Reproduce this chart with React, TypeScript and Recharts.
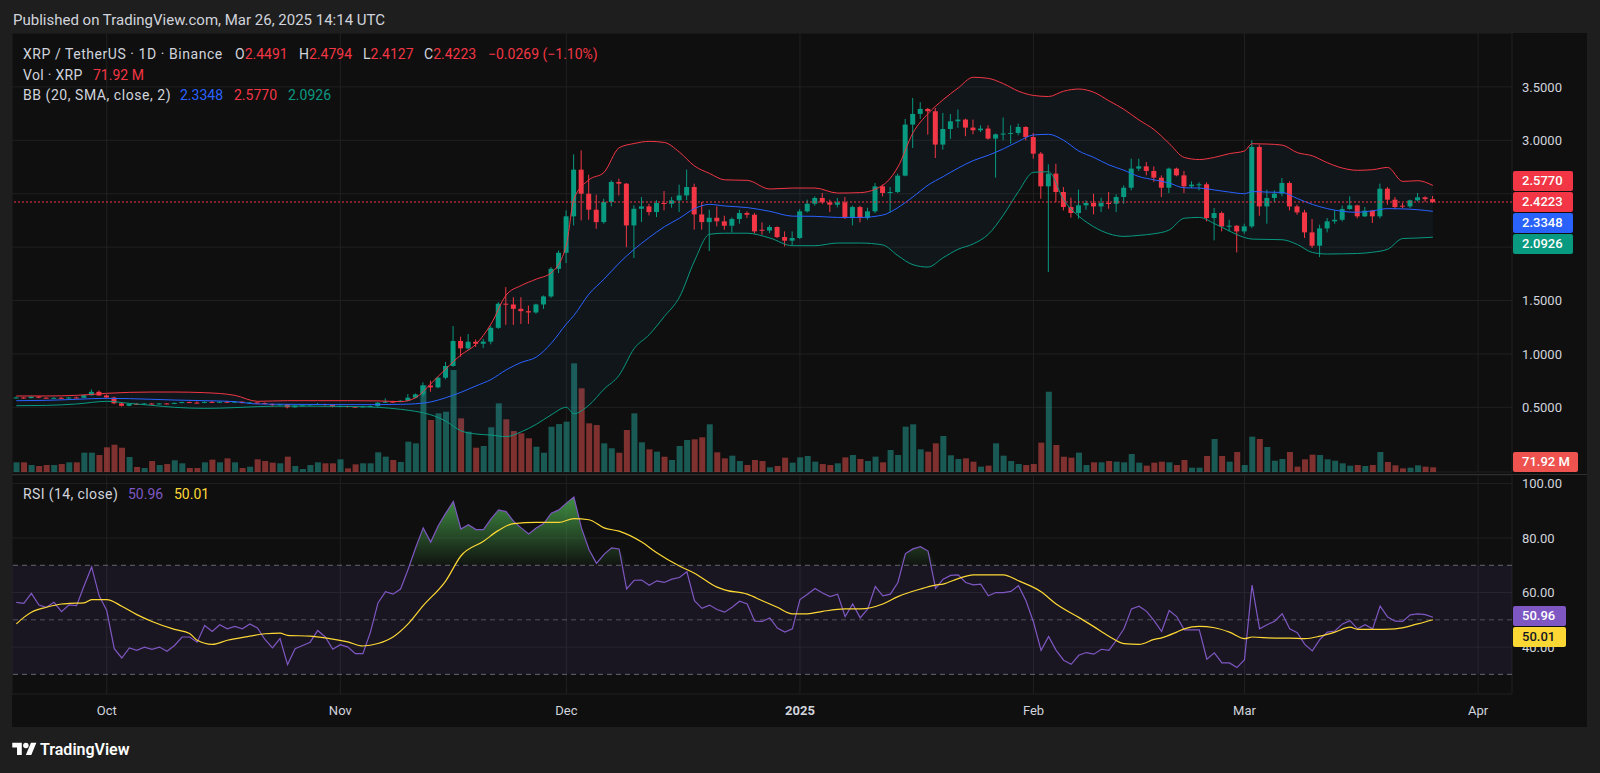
import React from "react";
import {
  ComposedChart,
  Bar,
  Line,
  Area,
  XAxis,
  YAxis,
  CartesianGrid,
  ReferenceLine,
  ReferenceArea,
} from "recharts";

// daily candles, index 0 = Sep 19 2024 ... 188 = Mar 26 2025
const opens = [
  0.586, 0.592, 0.586, 0.600, 0.590, 0.585, 0.589, 0.586, 0.592, 0.589,
  0.613, 0.645, 0.611, 0.592, 0.537, 0.514, 0.533, 0.528, 0.535, 0.530,
  0.536, 0.532, 0.541, 0.549, 0.544, 0.541, 0.551, 0.546, 0.552, 0.548,
  0.553, 0.540, 0.545, 0.540, 0.531, 0.521, 0.528, 0.500, 0.515, 0.518,
  0.528, 0.531, 0.521, 0.506, 0.512, 0.506, 0.503, 0.509, 0.512, 0.543,
  0.553, 0.550, 0.562, 0.590, 0.621, 0.703, 0.687, 0.777, 0.887, 1.121,
  1.052, 1.114, 1.095, 1.115, 1.244, 1.470, 1.463, 1.422, 1.400, 1.388,
  1.463, 1.538, 1.797, 1.947, 2.288, 2.725, 2.500, 2.350, 2.234, 2.422,
  2.610, 2.594, 2.203, 2.359, 2.381, 2.328, 2.413, 2.406, 2.438, 2.484,
  2.563, 2.306, 2.234, 2.275, 2.241, 2.200, 2.263, 2.319, 2.303, 2.162,
  2.155, 2.188, 2.094, 2.060, 2.085, 2.335, 2.406, 2.460, 2.419, 2.397,
  2.419, 2.272, 2.375, 2.272, 2.335, 2.569, 2.507, 2.516, 2.669, 3.147,
  3.247, 3.294, 3.272, 2.960, 3.106, 3.178, 3.194, 3.119, 3.094, 3.110,
  3.016, 3.056, 3.063, 3.069, 3.125, 3.031, 2.875, 2.569, 2.688, 2.516,
  2.375, 2.319, 2.391, 2.413, 2.381, 2.413, 2.406, 2.469, 2.556, 2.735,
  2.756, 2.713, 2.650, 2.556, 2.735, 2.672, 2.569, 2.580, 2.588, 2.272,
  2.319, 2.194, 2.200, 2.147, 2.194, 2.938, 2.381, 2.460, 2.500, 2.600,
  2.381, 2.325, 2.138, 2.013, 2.175, 2.241, 2.256, 2.356, 2.391, 2.288,
  2.341, 2.288, 2.547, 2.444, 2.388, 2.381, 2.438, 2.466, 2.4491,
];
const highs = [
  0.600, 0.596, 0.604, 0.606, 0.594, 0.594, 0.595, 0.597, 0.600, 0.618,
  0.668, 0.656, 0.620, 0.600, 0.542, 0.537, 0.540, 0.542, 0.541, 0.540,
  0.540, 0.545, 0.552, 0.553, 0.556, 0.556, 0.560, 0.555, 0.562, 0.556,
  0.555, 0.549, 0.548, 0.546, 0.537, 0.532, 0.531, 0.518, 0.522, 0.531,
  0.540, 0.535, 0.524, 0.518, 0.515, 0.510, 0.515, 0.518, 0.548, 0.584,
  0.560, 0.568, 0.624, 0.630, 0.734, 0.749, 0.787, 0.924, 1.261, 1.161,
  1.186, 1.135, 1.141, 1.260, 1.485, 1.625, 1.531, 1.531, 1.453, 1.470,
  1.547, 1.813, 1.969, 2.344, 2.869, 2.906, 2.678, 2.491, 2.453, 2.625,
  2.641, 2.600, 2.391, 2.469, 2.406, 2.438, 2.525, 2.469, 2.585, 2.725,
  2.594, 2.422, 2.350, 2.381, 2.294, 2.278, 2.350, 2.335, 2.319, 2.231,
  2.206, 2.194, 2.147, 2.147, 2.356, 2.444, 2.475, 2.507, 2.444, 2.460,
  2.469, 2.388, 2.388, 2.369, 2.600, 2.585, 2.563, 2.688, 3.200, 3.397,
  3.356, 3.303, 3.303, 3.256, 3.247, 3.288, 3.203, 3.194, 3.141, 3.141,
  3.063, 3.213, 3.141, 3.156, 3.131, 3.069, 2.891, 2.775, 2.781, 2.563,
  2.463, 2.538, 2.438, 2.500, 2.463, 2.516, 2.494, 2.578, 2.828, 2.828,
  2.797, 2.756, 2.672, 2.744, 2.744, 2.713, 2.616, 2.607, 2.607, 2.366,
  2.334, 2.256, 2.205, 2.219, 3.000, 2.960, 2.538, 2.531, 2.647, 2.616,
  2.397, 2.350, 2.263, 2.210, 2.272, 2.344, 2.388, 2.475, 2.397, 2.375,
  2.350, 2.594, 2.563, 2.469, 2.413, 2.444, 2.506, 2.475, 2.4794,
];
const lows = [
  0.582, 0.582, 0.584, 0.585, 0.580, 0.582, 0.581, 0.582, 0.585, 0.587,
  0.610, 0.607, 0.585, 0.530, 0.508, 0.510, 0.524, 0.525, 0.526, 0.527,
  0.528, 0.530, 0.537, 0.540, 0.537, 0.539, 0.543, 0.543, 0.545, 0.541,
  0.535, 0.536, 0.532, 0.526, 0.506, 0.517, 0.490, 0.497, 0.511, 0.513,
  0.522, 0.515, 0.500, 0.500, 0.498, 0.495, 0.497, 0.502, 0.503, 0.540,
  0.545, 0.548, 0.555, 0.585, 0.600, 0.646, 0.678, 0.762, 0.880, 0.974,
  1.036, 1.065, 1.056, 1.090, 1.234, 1.272, 1.272, 1.281, 1.281, 1.375,
  1.422, 1.525, 1.756, 1.850, 2.203, 2.250, 2.256, 2.172, 2.219, 2.381,
  2.484, 1.999, 1.897, 2.234, 2.297, 2.281, 2.344, 2.369, 2.328, 2.438,
  2.163, 2.163, 1.963, 2.194, 2.163, 2.138, 2.219, 2.272, 2.131, 2.116,
  2.131, 2.085, 2.006, 2.016, 2.075, 2.325, 2.388, 2.403, 2.328, 2.372,
  2.263, 2.203, 2.231, 2.256, 2.319, 2.475, 2.325, 2.507, 2.663, 2.928,
  3.200, 3.053, 2.834, 2.913, 3.013, 3.116, 3.038, 3.056, 3.078, 3.006,
  2.650, 3.000, 2.969, 3.047, 3.000, 2.828, 2.453, 1.766, 2.422, 2.344,
  2.275, 2.266, 2.350, 2.306, 2.328, 2.359, 2.328, 2.406, 2.531, 2.713,
  2.672, 2.610, 2.469, 2.506, 2.663, 2.506, 2.553, 2.531, 2.241, 2.063,
  2.147, 2.147, 1.950, 2.125, 2.178, 2.294, 2.219, 2.419, 2.475, 2.344,
  2.303, 2.085, 1.991, 1.906, 2.138, 2.219, 2.241, 2.350, 2.269, 2.281,
  2.225, 2.269, 2.397, 2.356, 2.366, 2.366, 2.428, 2.425, 2.4127,
];
const closes = [
  0.592, 0.586, 0.600, 0.590, 0.585, 0.589, 0.586, 0.592, 0.589, 0.613,
  0.645, 0.611, 0.592, 0.537, 0.514, 0.533, 0.528, 0.535, 0.530, 0.536,
  0.532, 0.541, 0.549, 0.544, 0.541, 0.551, 0.546, 0.552, 0.548, 0.553,
  0.540, 0.545, 0.540, 0.531, 0.521, 0.528, 0.500, 0.515, 0.518, 0.528,
  0.531, 0.521, 0.506, 0.512, 0.506, 0.503, 0.509, 0.512, 0.543, 0.553,
  0.550, 0.562, 0.590, 0.621, 0.703, 0.687, 0.777, 0.887, 1.121, 1.052,
  1.114, 1.095, 1.115, 1.244, 1.470, 1.463, 1.422, 1.400, 1.388, 1.463,
  1.538, 1.797, 1.947, 2.288, 2.725, 2.500, 2.350, 2.234, 2.422, 2.610,
  2.594, 2.203, 2.359, 2.381, 2.328, 2.413, 2.406, 2.438, 2.484, 2.563,
  2.306, 2.234, 2.275, 2.241, 2.200, 2.263, 2.319, 2.303, 2.147, 2.155,
  2.188, 2.094, 2.060, 2.085, 2.335, 2.406, 2.460, 2.419, 2.397, 2.419,
  2.272, 2.375, 2.272, 2.335, 2.569, 2.507, 2.516, 2.669, 3.147, 3.247,
  3.294, 3.272, 2.960, 3.106, 3.178, 3.194, 3.119, 3.094, 3.110, 3.016,
  3.056, 3.063, 3.069, 3.125, 3.031, 2.875, 2.569, 2.688, 2.516, 2.375,
  2.319, 2.391, 2.413, 2.381, 2.413, 2.406, 2.469, 2.556, 2.735, 2.756,
  2.713, 2.650, 2.556, 2.735, 2.672, 2.569, 2.585, 2.588, 2.272, 2.319,
  2.194, 2.200, 2.147, 2.194, 2.938, 2.381, 2.460, 2.500, 2.600, 2.381,
  2.325, 2.138, 2.013, 2.175, 2.241, 2.256, 2.356, 2.391, 2.288, 2.341,
  2.288, 2.547, 2.444, 2.375, 2.381, 2.438, 2.466, 2.449, 2.4223,
];
// volume in millions of XRP
const volumes = [
  148, 148, 107, 92, 107, 107, 122, 148, 148, 296,
  296, 260, 378, 418, 372, 230, 77, 61, 168, 107,
  122, 179, 133, 61, 61, 148, 189, 148, 209, 148,
  61, 81, 194, 168, 143, 133, 235, 92, 46, 107,
  148, 133, 133, 194, 56, 117, 133, 133, 301, 235,
  184, 153, 464, 439, 1331, 796, 898, 923, 1561, 821,
  617, 372, 398, 684, 1051, 806, 627, 592, 516, 387,
  295, 693, 734, 770, 1663, 1281, 745, 719, 439, 363,
  295, 643, 898, 454, 347, 311, 234, 184, 398, 490,
  500, 531, 730, 301, 209, 250, 168, 107, 184, 168,
  71, 92, 219, 143, 224, 245, 158, 122, 107, 133,
  224, 260, 199, 168, 235, 148, 337, 260, 694, 730,
  347, 311, 439, 551, 255, 199, 209, 158, 82, 97,
  439, 250, 168, 122, 107, 122, 449, 1229, 413, 234,
  219, 296, 107, 148, 148, 168, 158, 148, 275, 143,
  97, 143, 158, 148, 107, 184, 66, 66, 245, 505,
  245, 158, 306, 107, 541, 505, 383, 173, 199, 306,
  82, 194, 265, 260, 194, 173, 133, 97, 107, 92,
  107, 306, 153, 102, 56, 66, 102, 82, 71.92,
];
const rsiValues = [
  56.4, 56.0, 59.7, 55.4, 54.6, 56.4, 53.0, 55.5, 55.2, 62.5,
  69.4, 58.8, 53.4, 39.4, 36.0, 39.7, 38.8, 40.0, 39.2, 40.0,
  38.5, 40.6, 43.7, 43.7, 41.8, 47.9, 45.7, 48.2, 46.7, 47.6,
  46.7, 48.5, 47.0, 42.8, 39.7, 43.1, 33.6, 39.4, 40.6, 41.8,
  46.1, 43.7, 39.2, 40.9, 40.0, 37.6, 37.6, 45.5, 56.2, 60.3,
  59.4, 61.3, 68.5, 76.4, 83.7, 78.5, 84.5, 89.1, 93.4, 83.3,
  84.9, 83.1, 83.1, 87.0, 90.3, 89.7, 86.1, 83.7, 81.5, 83.7,
  85.3, 89.1, 90.3, 92.8, 95.0, 83.7, 75.8, 70.7, 74.0, 76.4,
  76.0, 61.3, 64.5, 64.6, 62.7, 64.3, 63.7, 64.9, 65.5, 67.6,
  57.0, 54.2, 55.4, 53.8, 52.8, 54.6, 56.8, 55.8, 49.5, 49.4,
  50.7, 47.0, 45.5, 46.7, 57.4, 59.4, 61.5, 59.8, 58.5, 59.4,
  51.2, 55.8, 50.7, 54.0, 62.2, 58.8, 59.4, 63.7, 74.3, 76.0,
  76.8, 75.2, 61.5, 64.9, 66.3, 66.5, 63.7, 62.8, 63.1, 58.8,
  60.0, 60.0, 60.4, 62.5, 57.0, 49.1, 38.8, 43.9, 38.8, 35.2,
  33.7, 37.0, 38.0, 37.4, 39.2, 38.8, 42.5, 46.7, 54.0, 55.0,
  53.1, 49.7, 45.7, 53.4, 51.2, 46.3, 46.3, 46.3, 35.6, 37.9,
  34.2, 34.2, 32.5, 35.4, 62.7, 46.7, 48.2, 49.5, 52.2, 46.7,
  45.3, 41.0, 38.6, 42.8, 45.5, 45.9, 48.5, 49.7, 46.7, 48.2,
  46.7, 55.0, 51.0, 49.5, 49.4, 51.8, 52.2, 51.9, 50.96,
];

// RSI moving average (yellow), read at these day indices
const rsiMaDays = [
  0, 1, 2, 4, 6, 7, 9, 10, 12, 14, 16, 18, 21, 23, 24, 26, 28, 31, 33, 35,
  36, 39, 41, 44, 46, 48, 50, 52, 54, 57, 59, 62, 64, 66, 69, 72, 74, 76, 78, 80,
  83, 85, 88, 90, 93, 94, 97, 99, 101, 103, 105, 107, 110, 112, 115, 117, 120, 122, 123, 125,
  127, 131, 133, 136, 138, 141, 143, 145, 147, 149, 151, 152, 154, 155, 157, 159, 161, 163, 164, 167,
  169, 171, 173, 175, 177, 178, 180, 183, 186, 188,
];
const rsiMaValues = [
  48.5, 50.9, 52.8, 54.6, 55.8, 56.0, 56.2, 57.4, 57.4, 55.0, 51.9, 49.4, 46.5, 45.0, 42.5, 41.0, 42.5, 44.0, 44.9, 45.1,
  44.3, 44.0, 43.4, 41.9, 40.4, 41.3, 43.7, 48.5, 55.2, 64.3, 73.4, 78.8, 82.8, 85.3, 85.7, 85.7, 87.1, 86.7, 83.7, 82.5,
  78.5, 74.6, 69.7, 67.1, 62.0, 61.0, 59.4, 57.0, 54.6, 52.2, 52.2, 53.1, 54.0, 54.0, 55.8, 58.5, 61.3, 62.7, 63.1, 65.1,
  66.5, 66.5, 64.3, 60.3, 55.8, 50.9, 47.5, 44.0, 41.3, 41.0, 42.8, 43.4, 45.5, 46.7, 47.6, 47.1, 45.5, 43.1, 43.7, 43.3,
  43.3, 43.1, 44.0, 45.5, 47.3, 46.5, 46.5, 46.7, 48.5, 50.01,
];

// Bollinger Bands (20, 2), read at these day indices
const bbDays = [
  0, 4, 8, 12, 15, 18, 21, 25, 29, 32, 36, 40, 44, 48, 51, 53, 55, 57, 59, 61,
  63, 65, 67, 69, 71, 73, 74, 76, 78, 80, 82, 84, 86, 88, 90, 92, 94, 97, 100, 103,
  106, 109, 112, 115, 117, 119, 121, 123, 125, 127, 129, 131, 133, 135, 137, 139, 141, 143, 145, 147,
  149, 151, 153, 155, 157, 159, 161, 163, 164, 166, 168, 170, 172, 174, 176, 178, 180, 182, 184, 186,
  188,
];
const bbUpper = [
  0.606, 0.606, 0.612, 0.631, 0.640, 0.643, 0.643, 0.637, 0.612, 0.556, 0.562, 0.562, 0.562, 0.560, 0.553, 0.59, 0.72, 0.86, 0.99, 1.09,
  1.28, 1.55, 1.64, 1.70, 1.76, 2.02, 2.45, 2.63, 2.70, 2.93, 2.97, 2.99, 2.98, 2.89, 2.76, 2.69, 2.63, 2.625, 2.544, 2.553,
  2.553, 2.506, 2.51, 2.58, 2.75, 3.07, 3.25, 3.38, 3.49, 3.59, 3.58, 3.53, 3.46, 3.42, 3.41, 3.46, 3.48, 3.45, 3.37, 3.29,
  3.19, 3.10, 2.97, 2.84, 2.82, 2.84, 2.875, 2.90, 2.968, 2.965, 2.955, 2.885, 2.855, 2.79, 2.74, 2.719, 2.725, 2.746, 2.615, 2.622,
  2.577,
];
const bbBasis = [
  0.562, 0.565, 0.575, 0.584, 0.581, 0.575, 0.568, 0.562, 0.553, 0.531, 0.528, 0.526, 0.525, 0.525, 0.528, 0.533, 0.55, 0.59, 0.64, 0.70,
  0.76, 0.85, 0.92, 0.97, 1.10, 1.28, 1.36, 1.56, 1.70, 1.85, 1.98, 2.09, 2.19, 2.27, 2.36, 2.40, 2.385, 2.37, 2.335, 2.29,
  2.288, 2.278, 2.278, 2.30, 2.37, 2.47, 2.58, 2.66, 2.74, 2.81, 2.86, 2.92, 2.99, 3.05, 3.056, 3.00, 2.90, 2.84, 2.77, 2.72,
  2.66, 2.63, 2.60, 2.555, 2.553, 2.535, 2.515, 2.50, 2.52, 2.515, 2.512, 2.455, 2.40, 2.36, 2.335, 2.326, 2.34, 2.36, 2.358, 2.35,
  2.3348,
];
const bbLower = [
  0.515, 0.518, 0.531, 0.556, 0.537, 0.518, 0.500, 0.490, 0.497, 0.506, 0.512, 0.510, 0.508, 0.500, 0.481, 0.462, 0.43, 0.37, 0.28, 0.25,
  0.24, 0.225, 0.27, 0.34, 0.43, 0.50, 0.44, 0.52, 0.67, 0.80, 1.05, 1.18, 1.35, 1.53, 1.87, 2.12, 2.13, 2.13, 2.085, 2.013,
  2.013, 2.038, 2.038, 2.02, 1.92, 1.835, 1.813, 1.90, 1.98, 2.03, 2.12, 2.30, 2.52, 2.70, 2.705, 2.44, 2.29, 2.19, 2.125, 2.10,
  2.11, 2.125, 2.16, 2.27, 2.278, 2.22, 2.15, 2.09, 2.075, 2.072, 2.069, 2.025, 1.95, 1.935, 1.937, 1.94, 1.952, 1.98, 2.08, 2.085,
  2.0926,
];

const monthTicks = [12, 43, 73, 104, 135, 163, 194];
const monthLabels = ["Oct", "Nov", "Dec", "2025", "Feb", "Mar", "Apr"];
const priceGridTicks = [0.5, 1, 1.5, 2, 2.5, 3, 3.5];
// 2.0000 and 2.5000 sit under the value badges, so only these are labelled
const priceLabelTicks = [0.5, 1, 1.5, 3, 3.5];
const rsiTicks = [40, 60, 80, 100];

const UP = "#089981";
const DOWN = "#f23645";
const TEXT = "#d1d4dc";
const GRID = "#202020";
const FONT = "Roboto, 'Noto Sans', sans-serif";
const X_DOMAIN: [number, number] = [-0.571, 198.5];
const PRICE_DOMAIN: [number, number] = [-0.1058, 4.0047];
const RSI_DOMAIN: [number, number] = [22.8, 103.1];

const candles = opens.map((o, i) => ({
  i,
  open: o,
  high: highs[i],
  low: lows[i],
  close: closes[i],
  volume: volumes[i],
  rsi: rsiValues[i],
}));
const bbData = bbDays.map((d, k) => ({
  i: d,
  upper: bbUpper[k],
  basis: bbBasis[k],
  lower: bbLower[k],
  band: [bbLower[k], bbUpper[k]],
}));
const rsiMaData = rsiMaDays.map((d, k) => ({ i: d, ma: rsiMaValues[k] }));

function Candle(props: any) {
  const { x, y, width, height, payload } = props;
  if (!payload || x == null) return null;
  const { open, close, high, low } = payload;
  const color = close >= open ? UP : DOWN;
  const span = high - low || 1;
  const py = (v: number) => y + ((high - v) / span) * height;
  const top = py(Math.max(open, close));
  const bottom = py(Math.min(open, close));
  const cx = x + width / 2;
  return (
    <g>
      <line x1={cx} x2={cx} y1={y} y2={y + height} stroke={color} strokeWidth={1} />
      <rect x={x} y={top} width={width} height={Math.max(1, bottom - top)} fill={color} />
    </g>
  );
}

function VolumeBar(props: any) {
  const { x, y, width, height, payload } = props;
  if (!payload || x == null) return null;
  const up = payload.close >= payload.open;
  return (
    <rect
      x={x}
      y={y}
      width={width}
      height={Math.max(0, height)}
      fill={up ? "#26a69a" : "#ef5350"}
      fillOpacity={0.5}
    />
  );
}

function TimeTick(props: any) {
  const { x, y, payload } = props;
  const label = monthLabels[monthTicks.indexOf(payload.value)] ?? "";
  return (
    <text
      x={x}
      y={y}
      dy="0.71em"
      textAnchor="middle"
      fill={TEXT}
      fontSize={13}
      fontWeight={label === "2025" ? 700 : 400}
    >
      {label}
    </text>
  );
}

function Badge({ top, bg, text, width = 60, color = "#ffffff" }: any) {
  return (
    <div
      style={{
        position: "absolute",
        left: 1513,
        top,
        width,
        height: 20,
        background: bg,
        color,
        fontSize: 13,
        fontWeight: 500,
        lineHeight: "20px",
        paddingLeft: 9,
        boxSizing: "border-box",
        borderRadius: 2,
      }}
    >
      {text}
    </div>
  );
}

// one legend text piece, placed where the reference has it
function T({ x, y, color = TEXT, spacing = 0, children }: any) {
  return (
    <div
      style={{
        position: "absolute",
        left: x,
        top: y,
        fontSize: 14,
        lineHeight: "18px",
        color,
        letterSpacing: spacing,
        whiteSpace: "nowrap",
      }}
    >
      {children}
    </div>
  );
}

export default function App() {
  return (
    <div
      style={{
        position: "relative",
        width: 1600,
        height: 773,
        background: "#1e1e1e",
        fontFamily: FONT,
        overflow: "hidden",
      }}
    >
      <style>{"body{margin:0}"}</style>

      <div style={{ position: "absolute", left: 13, top: 10, fontSize: 15, color: TEXT, lineHeight: "20px" }}>
        Published on TradingView.com, Mar 26, 2025 14:14 UTC
      </div>

      {/* chart frame */}
      <div style={{ position: "absolute", left: 12, top: 33, width: 1575, height: 694, background: "#0f0f0f" }} />

      {/* price pane: grid + volume */}
      <div style={{ position: "absolute", left: 12, top: 33 }}>
        <ComposedChart width={1575} height={441} data={candles} margin={{ top: 0, right: 75, bottom: 2, left: 0 }}>
          <XAxis dataKey="i" type="number" domain={X_DOMAIN} allowDataOverflow ticks={monthTicks} hide />
          <YAxis yAxisId="p" domain={PRICE_DOMAIN} allowDataOverflow ticks={priceGridTicks} hide />
          <YAxis yAxisId="v" domain={[0, 6720]} allowDataOverflow hide />
          <CartesianGrid yAxisId="p" stroke={GRID} />
          <Bar yAxisId="v" dataKey="volume" barSize={6} shape={VolumeBar} isAnimationActive={false} />
        </ComposedChart>
      </div>

      {/* price pane: candles + BB */}
      <div style={{ position: "absolute", left: 12, top: 33 }}>
        <ComposedChart width={1575} height={441} data={candles} margin={{ top: 0, right: 0, bottom: 2, left: 0 }}>
          <XAxis dataKey="i" type="number" domain={X_DOMAIN} allowDataOverflow ticks={monthTicks} hide />
          <YAxis
            orientation="right"
            width={75}
            domain={PRICE_DOMAIN}
            allowDataOverflow
            ticks={priceLabelTicks}
            interval={0}
            axisLine={false}
            tickLine={false}
            tickMargin={4}
            tick={{ fill: TEXT, fontSize: 13 }}
            tickFormatter={(v: number) => v.toFixed(4)}
          />
          <Area
            data={bbData}
            dataKey="band"
            type="monotone"
            stroke="none"
            fill="#2196f3"
            fillOpacity={0.05}
            isAnimationActive={false}
          />
          <Line data={bbData} dataKey="upper" type="monotone" stroke="#f23645" strokeWidth={1} dot={false} isAnimationActive={false} />
          <Line data={bbData} dataKey="basis" type="monotone" stroke="#2962ff" strokeWidth={1} dot={false} isAnimationActive={false} />
          <Line data={bbData} dataKey="lower" type="monotone" stroke="#089981" strokeWidth={1} dot={false} isAnimationActive={false} />
          <ReferenceLine y={2.4223} stroke={DOWN} strokeDasharray="2 2" />
          <Bar
            dataKey={(d: any) => [d.low, d.high]}
            barSize={5}
            shape={Candle}
            isAnimationActive={false}
          />
        </ComposedChart>
      </div>

      {/* pane separator */}
      <div style={{ position: "absolute", left: 12, top: 474, width: 1575, height: 1, background: "#2e2e2e" }} />

      {/* RSI pane */}
      <div style={{ position: "absolute", left: 12, top: 475 }}>
        <ComposedChart width={1575} height={252} data={candles} margin={{ top: 0, right: 0, bottom: 0, left: 0 }}>
          <defs>
            <linearGradient id="obFill" x1="0" y1="0" x2="0" y2="1">
              <stop offset="0%" stopColor="#4caf50" stopOpacity={0.8} />
              <stop offset="100%" stopColor="#4caf50" stopOpacity={0.03} />
            </linearGradient>
          </defs>
          <XAxis
            dataKey="i"
            type="number"
            domain={X_DOMAIN}
            allowDataOverflow
            ticks={monthTicks}
            interval={0}
            height={33}
            axisLine={false}
            tickLine={false}
            tickMargin={6}
            tick={<TimeTick />}
          />
          <YAxis
            orientation="right"
            width={75}
            domain={RSI_DOMAIN}
            allowDataOverflow
            ticks={rsiTicks}
            interval={0}
            axisLine={false}
            tickLine={false}
            tickMargin={4}
            tick={{ fill: TEXT, fontSize: 13 }}
            tickFormatter={(v: number) => v.toFixed(2)}
          />
          <CartesianGrid stroke={GRID} />
          <ReferenceArea y1={30} y2={70} fill="#7e57c2" fillOpacity={0.1} stroke="none" />
          <ReferenceLine y={70} stroke="#787b86" strokeDasharray="5 4" strokeOpacity={0.8} />
          <ReferenceLine y={50} stroke="#787b86" strokeDasharray="5 4" strokeOpacity={0.6} />
          <ReferenceLine y={30} stroke="#787b86" strokeDasharray="5 4" strokeOpacity={0.8} />
          <Area
            dataKey={(d: any) => [70, Math.max(70, d.rsi)]}
            type="linear"
            stroke="none"
            fill="url(#obFill)"
            fillOpacity={1}
            isAnimationActive={false}
          />
          <Line dataKey="rsi" type="linear" stroke="#7e57c2" strokeWidth={1.2} dot={false} isAnimationActive={false} />
          <Line data={rsiMaData} dataKey="ma" type="monotone" stroke="#fdd835" strokeWidth={1.2} dot={false} isAnimationActive={false} />
        </ComposedChart>
      </div>

      {/* legends */}
      <T x={23} y={45} spacing={0.55}>XRP / TetherUS · 1D · Binance</T>
      <T x={235} y={45}>O<span style={{ color: DOWN }}>2.4491</span></T>
      <T x={299} y={45}>H<span style={{ color: DOWN }}>2.4794</span></T>
      <T x={363} y={45}>L<span style={{ color: DOWN }}>2.4127</span></T>
      <T x={424} y={45}>C<span style={{ color: DOWN }}>2.4223</span></T>
      <T x={488} y={45} color={DOWN}>−0.0269 (−1.10%)</T>

      <T x={23} y={66} spacing={0.3}>Vol · XRP</T>
      <T x={93} y={66} color={DOWN}>71.92 M</T>

      <T x={23} y={86} spacing={0.55}>BB (20, SMA, close, 2)</T>
      <T x={180} y={86} color="#2962ff">2.3348</T>
      <T x={234} y={86} color={DOWN}>2.5770</T>
      <T x={288} y={86} color="#089981">2.0926</T>

      <T x={23} y={485} spacing={0.4}>RSI (14, close)</T>
      <T x={128} y={485} color="#7e57c2">50.96</T>
      <T x={174} y={485} color="#fdd835">50.01</T>

      {/* price scale badges */}
      <Badge top={171} bg="#f23645" text="2.5770" />
      <Badge top={192} bg="#f23645" text="2.4223" />
      <Badge top={213} bg="#2962ff" text="2.3348" />
      <Badge top={234} bg="#089981" text="2.0926" />
      <Badge top={452} bg="#ef5350" text="71.92 M" width={65} />
      <Badge top={606} bg="#7e57c2" text="50.96" width={53} />
      <Badge top={627} bg="#fdd835" text="50.01" width={53} color="#131722" />

      {/* footer */}
      <div style={{ position: "absolute", left: 12, top: 740, display: "flex", alignItems: "center", color: "#ffffff" }}>
        <svg width="25" height="19" viewBox="0 0 36 28">
          <path d="M14 22H7V11H0V4h14v18z" fill="#ffffff" />
          <circle cx="20" cy="8" r="4" fill="#ffffff" />
          <path d="M28 22h-8l7.5-18h8L28 22z" fill="#ffffff" />
        </svg>
        <span style={{ marginLeft: 3, fontSize: 16, fontWeight: 600 }}>TradingView</span>
      </div>
    </div>
  );
}
